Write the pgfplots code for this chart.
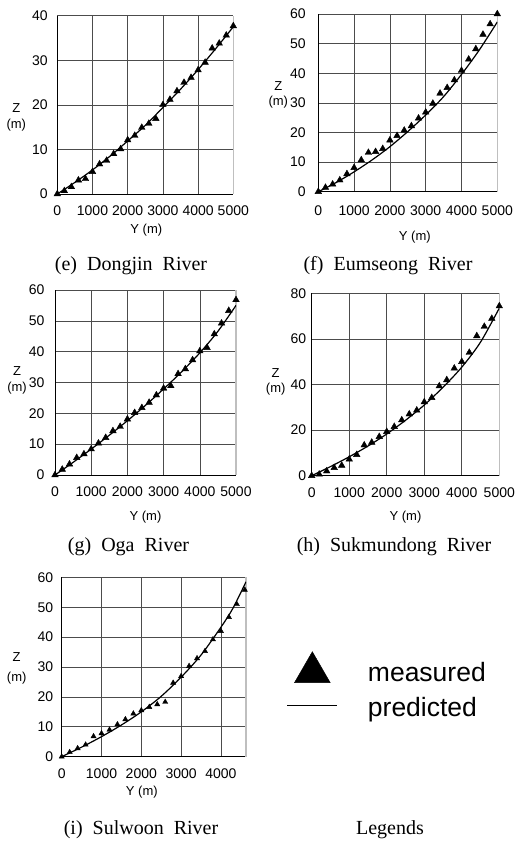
\documentclass[border=0pt]{standalone}
\usepackage{fontspec}
\setmainfont{Liberation Sans}
\newfontfamily\capfont{Liberation Serif}
\usepackage{pgfplots}
\pgfplotsset{compat=1.18}

\pgfplotsset{
  river/.style={
    scale only axis, anchor=south west,
    xmin=0, ymin=0,
    grid=major,
    major grid style={black!70, line width=0.6pt},
    axis x line*=bottom, axis y line*=left,
    axis line style={black, line width=0.8pt, -},
    major tick length=0pt,
    tick label style={font=\fontsize{14}{16}\selectfont},
    /pgf/number format/assume math mode=true,
    /pgf/number format/1000 sep={},
    scaled ticks=false,
    xlabel={Y (m)}, ylabel={Z\\(m)},
    clip mode=individual,
    extra x tick style={major grid style={gray!50, line width=1.2pt}},
  },
  xlab/.style n args={3}{
    every axis x label/.style={at={(axis description cs:0.5,0)}, anchor=center,
      xshift=#1, yshift=#2, font=\fontsize{13}{15}\selectfont},
    xticklabel style={anchor=center, yshift=#3}},
  ylab/.style n args={3}{
    every axis y label/.style={at={(axis description cs:0,#2)}, anchor=center,
      xshift=#1, align=center, font=\fontsize{13}{15.5}\selectfont},
    yticklabel style={anchor=east, xshift=#3}},
  meas/.style={only marks, mark=triangle*, mark size=3.8pt, black},
  pred/.style={black, line width=1.2pt, smooth, mark=none},
  to5000/.style={xmax=5000, xtick={0,1000,...,4000},
    extra x ticks={5000}, extra x tick labels={5000}},
}

\begin{document}
\begin{tikzpicture}
\path[use as bounding box] (0,0) rectangle (514pt,842pt);

% (e) Dongjin River
\begin{axis}[river, to5000, at={(57.3pt,648pt)}, width=176pt, height=178.3pt,
  ymax=40, ytick={0,10,...,40},
  xlab={1pt}{-36pt}{-17pt}, ylab={-41pt}{0.43}{-6pt}]
\addplot[meas] coordinates {(0,0) (200,0.7) (400,1.6) (600,3.1) (800,3.4)
  (1000,5.0) (1200,6.7) (1400,7.5) (1600,9.0) (1800,10.1) (2000,12.1)
  (2200,13.1) (2400,14.9) (2600,15.8) (2800,16.9) (3000,20.0) (3200,21.2)
  (3400,23.1) (3600,25.0) (3800,26.1) (4000,27.8) (4200,29.5) (4400,32.7)
  (4600,33.8) (4800,35.6) (5000,37.7)};
\addplot[pred] coordinates {(0,0) (500,2.6) (1000,5.4) (1500,8.5) (2000,11.9)
  (2500,15.4) (3000,19.4) (3500,23.5) (4000,27.9) (4500,32.6) (5000,37.5)};
\end{axis}

% (f) Eumseong River
\begin{axis}[river, to5000, at={(318.3pt,650.3pt)}, width=179pt, height=177.7pt,
  ymax=60, ytick={0,10,...,60},
  xlab={7pt}{-45.6pt}{-19pt}, ylab={-40pt}{0.544}{-9pt}]
\addplot[meas] coordinates {(0,0) (200,1.4) (400,2.5) (600,3.9) (800,6.0)
  (1000,8.1) (1200,10.7) (1400,13.2) (1600,13.5) (1800,14.5) (2000,17.4)
  (2200,18.9) (2400,20.7) (2600,22.2) (2800,24.8) (3000,26.8) (3200,29.8)
  (3400,33.2) (3600,35.1) (3800,37.7) (4000,40.9) (4200,44.7) (4400,48.2)
  (4600,53.1) (4800,56.6) (5000,60.0)};
\addplot[pred] coordinates {(0,0) (500,3.1) (1000,6.7) (1500,10.7) (2000,15.2)
  (2500,20.3) (3000,25.9) (3500,32.1) (4000,39.6) (4500,47.9) (5000,57.3)};
\end{axis}

% (g) Oga River
\begin{axis}[river, to5000, at={(55pt,367pt)}, width=181pt, height=185pt,
  ymax=60, ytick={0,10,...,60},
  xlab={0pt}{-42.3pt}{-17pt}, ylab={-38pt}{0.512}{-7pt}]
\addplot[meas] coordinates {(0,0) (200,1.8) (400,3.5) (600,5.6) (800,6.8)
  (1000,8.4) (1200,10.3) (1400,12.1) (1600,14.3) (1800,15.7) (2000,18.1)
  (2200,20.2) (2400,21.8) (2600,23.5) (2800,25.9) (3000,28.1) (3200,28.9)
  (3400,32.8) (3600,34.4) (3800,37.3) (4000,40.2) (4200,41.3) (4400,45.7)
  (4600,49.2) (4800,53.3) (5000,56.8)};
\addplot[pred] coordinates {(0,0) (500,4.1) (1000,8.4) (1500,12.9) (2000,17.6)
  (2500,22.6) (3000,27.9) (3500,33.5) (4000,39.6) (4500,46.6) (5000,55.0)};
\end{axis}

% (h) Sukmundong River
\begin{axis}[river, to5000, at={(311.7pt,366.3pt)}, width=187.6pt, height=182.4pt,
  ymax=80, ytick={0,20,...,80},
  xlab={0pt}{-41.6pt}{-17pt}, ylab={-36pt}{0.515}{-2pt}]
\addplot[meas] coordinates {(0,0) (200,0.6) (400,2.0) (600,3.5) (800,4.5)
  (1000,7.2) (1200,9.2) (1400,13.4) (1600,14.6) (1800,17.1) (2000,19.3)
  (2200,21.5) (2400,24.4) (2600,27.0) (2800,28.7) (3000,32.3) (3200,34.2)
  (3400,39.3) (3600,42.0) (3800,47.1) (4000,50.0) (4200,54.0) (4400,61.3)
  (4600,65.4) (4800,68.9) (5000,74.4)};
\addplot[pred] coordinates {(0,0) (500,4.0) (1000,8.3) (1500,13.0) (2000,18.3)
  (2500,24.3) (3000,31.0) (3500,38.8) (4000,47.6) (4500,58.6) (5000,73.5)};
\end{axis}

% (i) Sulwoon River, with the legend
\begin{axis}[river, at={(61.7pt,85.3pt)}, width=184.3pt, height=179.4pt,
  xmax=4630, ymax=60, xtick={0,1000,...,4000}, ytick={0,10,...,60},
  extra x ticks={4630}, extra x tick labels={},
  xlab={-12pt}{-35pt}{-17pt}, ylab={-45pt}{0.493}{-5pt},
  ylabel={Z\\[5pt](m)},
  legend style={draw=none, fill=none, inner sep=0pt, outer sep=0pt,
    at={(axis description cs:1.2208,0.5853)}, anchor=north west,
    row sep=9pt, cells={anchor=base west},
    nodes={inner sep=0pt, text height=20pt, text depth=6pt,
      font=\fontsize{26.5}{30}\selectfont}}]
\addplot[meas, mark size=3.0pt,
  legend image code/.code={
    \draw[black, mark=triangle*, mark size=20.6pt] plot coordinates {(25pt,9.4pt)};
    \path (0pt,0pt) (80pt,0pt);}]
  coordinates {(0,0) (200,1.5) (400,2.8) (600,4.0) (800,6.8) (1000,7.8)
  (1200,9.0) (1400,10.8) (1600,12.5) (1800,14.4) (2000,15.5) (2200,16.6)
  (2400,17.5) (2600,18.3) (2800,24.7) (3000,26.9) (3200,30.3) (3400,32.9)
  (3600,35.3) (3800,39.2) (4000,42.0) (4200,46.7) (4400,51.0) (4600,55.8)};
\addlegendentry{measured}
\addplot[pred,
  legend image code/.code={
    \draw[black, line width=1.3pt] (0pt,11.5pt) -- (50pt,11.5pt);
    \path (80pt,0pt);}]
  coordinates {(0,0) (500,3.2) (1000,6.7) (1500,10.6) (2000,15.0)
  (2500,20.2) (3000,26.6) (3500,34.0) (4000,43.3) (4300,49.6) (4630,58.5)};
\addlegendentry{predicted}
\end{axis}

% captions
\begin{scope}[every node/.style={font=\capfont\fontsize{20}{24}\selectfont}]
\node at (131pt,576pt) {(e)\ \ Dongjin\ \ River};
\node at (388pt,576pt) {(f)\ \ Eumseong\ \ River};
\node at (128.5pt,295.3pt) {(g)\ \ Oga\ \ River};
\node at (394pt,295.3pt) {(h)\ \ Sukmundong\ \ River};
\node at (141pt,12pt) {(i)\ \ Sulwoon\ \ River};
\node at (390pt,12pt) {Legends};
\end{scope}
\end{tikzpicture}
\end{document}
